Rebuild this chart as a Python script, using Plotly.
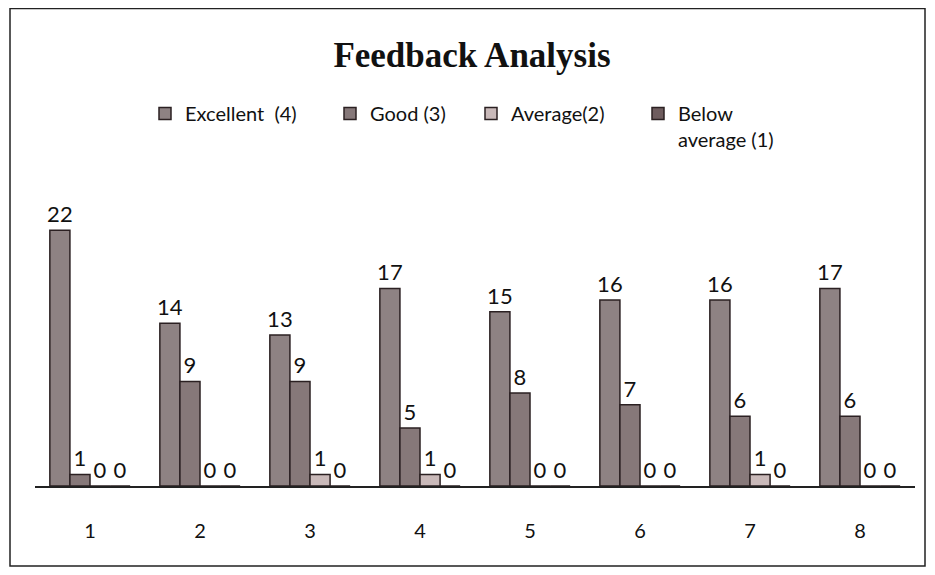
import plotly.graph_objects as go

categories = ["1", "2", "3", "4", "5", "6", "7", "8"]
excellent = [22, 14, 13, 17, 15, 16, 16, 17]
good = [1, 9, 9, 5, 8, 7, 6, 6]
average = [0, 0, 1, 1, 0, 0, 1, 0]
below_average = [0, 0, 0, 0, 0, 0, 0, 0]
series_names = ["Excellent  (4)", "Good (3)", "Average(2)", "Below<br>average (1)"]

# page body has an 8px margin, so work in figure coordinates (screen - 8)
W, H = 919, 559
L, R, T, B = 27, 12, 199, 81
pw = W - L - R
ph = H - T - B

colors = ["#8e8283", "#867879", "#c9b9b9", "#6e5c5e"]
legend_ids = ["legend", "legend2", "legend3", "legend4"]
legend_x = [137, 322, 463, 630]

FONT = "Lato, Open Sans, sans-serif"

fig = go.Figure()
for name, vals, col, lid in zip(series_names, [excellent, good, average, below_average], colors, legend_ids):
    fig.add_trace(go.Bar(
        x=categories, y=vals, name=name, legend=lid,
        marker=dict(color=col, line=dict(color="#2b2022", width=1.5)),
        text=[str(v) for v in vals], textposition="outside",
        textfont=dict(family=FONT, size=22, color="#111"),
        constraintext="none",
        cliponaxis=False,
    ))

layout_legends = {}
for lid, lx in zip(legend_ids, legend_x):
    layout_legends[lid] = dict(
        xref="container", yref="container",
        x=lx / W, xanchor="left", y=1 - 86 / H, yanchor="top",
        font=dict(family=FONT, size=20, color="#111"),
        itemclick=False, bgcolor="rgba(0,0,0,0)", tracegroupgap=0,
        valign="top",
    )

fig.update_layout(
    width=W, height=H,
    margin=dict(l=L, r=R, t=T, b=B, autoexpand=False),
    paper_bgcolor="white", plot_bgcolor="white",
    barmode="group", bargap=0.27, bargroupgap=0,
    uniformtext=dict(mode=False),
    title=dict(text="<b>Feedback Analysis</b>", x=464 / W, xanchor="center",
               y=1 - 47 / H, yanchor="middle",
               font=dict(family="Liberation Serif, Times New Roman, serif", size=35, color="#111")),
    xaxis=dict(showline=True, linecolor="#222", linewidth=1.5, ticks="",
               tickfont=dict(family=FONT, size=20, color="#111"),
               ticklabelstandoff=26, showgrid=False, automargin=False),
    yaxis=dict(visible=False, range=[0, 24], showgrid=False, automargin=False),
    showlegend=True,
    **layout_legends,
)

fig.add_shape(type="rect", xref="paper", yref="paper",
              x0=(2 - L) / pw, x1=(917 - L) / pw,
              y0=(H - B - 558) / ph, y1=(H - B - 0.5) / ph,
              line=dict(color="#222", width=1.5), fillcolor="rgba(0,0,0,0)", layer="below")

fig.write_html("out.html")
